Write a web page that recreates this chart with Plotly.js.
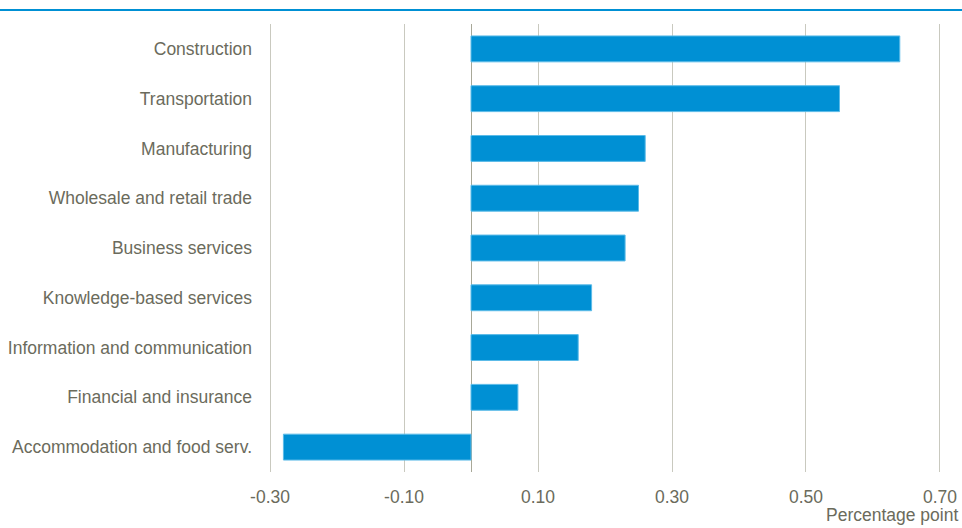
<!DOCTYPE html>
<html><head><meta charset="utf-8">
<script src="https://cdn.plot.ly/plotly-3.0.1.min.js"></script>
<style>html,body{margin:0;padding:0;background:#fff}#chart{width:962px;height:528px}</style>
</head><body><div id="chart"></div>
<script>
var categories = ["Construction","Transportation","Manufacturing","Wholesale and retail trade","Business services","Knowledge-based services","Information and communication","Financial and insurance","Accommodation and food serv."];
var values = [0.64,0.55,0.26,0.25,0.23,0.18,0.16,0.07,-0.28];
var tickVals = [-0.30,-0.10,0.10,0.30,0.50,0.70];
var tickText = ["-0.30","-0.10","0.10","0.30","0.50","0.70"];
var unitLabel = "Percentage point";

var W=962,H=528,L=268,R=20,T=24,B=56;
var pw=W-L-R, ph=H-T-B;
var fontFam = '"Liberation Sans Narrow","Arial Narrow","Liberation Sans",Arial,sans-serif';
var txtCol = '#6b6b5c';
var fs = 17.5;

var data=[{type:'bar',orientation:'h',y:categories,x:values,
  marker:{color:'#0090d4',line:{color:'#5cbbe8',width:1}},hoverinfo:'x+y'}];
var layout={width:W,height:H,margin:{l:L,r:R,t:T,b:B},
  paper_bgcolor:'#fff',plot_bgcolor:'#fff',bargap:0.48,showlegend:false,
  font:{family:fontFam,color:txtCol,size:fs},
  xaxis:{range:[-0.303,0.703],tickvals:tickVals,ticktext:tickText,showgrid:true,gridcolor:'#c9c9bf',gridwidth:1,
    zeroline:true,zerolinecolor:'#a8a898',zerolinewidth:1,showline:false,ticks:'',ticklabelstandoff:12,
    tickfont:{family:fontFam,size:fs,color:txtCol},fixedrange:true},
  yaxis:{autorange:'reversed',showgrid:false,zeroline:false,showline:false,ticks:'',ticklabelstandoff:15,
    tickfont:{family:fontFam,size:fs,color:txtCol},fixedrange:true},
  shapes:[{type:'line',xref:'paper',yref:'paper',x0:-L/pw,x1:1+R/pw,y0:1+14/ph,y1:1+14/ph,line:{color:'#0090d4',width:2}}],
  annotations:[{xref:'paper',yref:'paper',x:1+18/pw,y:-(B-1)/ph,xanchor:'right',yanchor:'bottom',text:unitLabel,showarrow:false,
    font:{family:fontFam,size:fs,color:txtCol}}]
};
Plotly.newPlot('chart',data,layout,{displayModeBar:false,staticPlot:true});
</script></body></html>
